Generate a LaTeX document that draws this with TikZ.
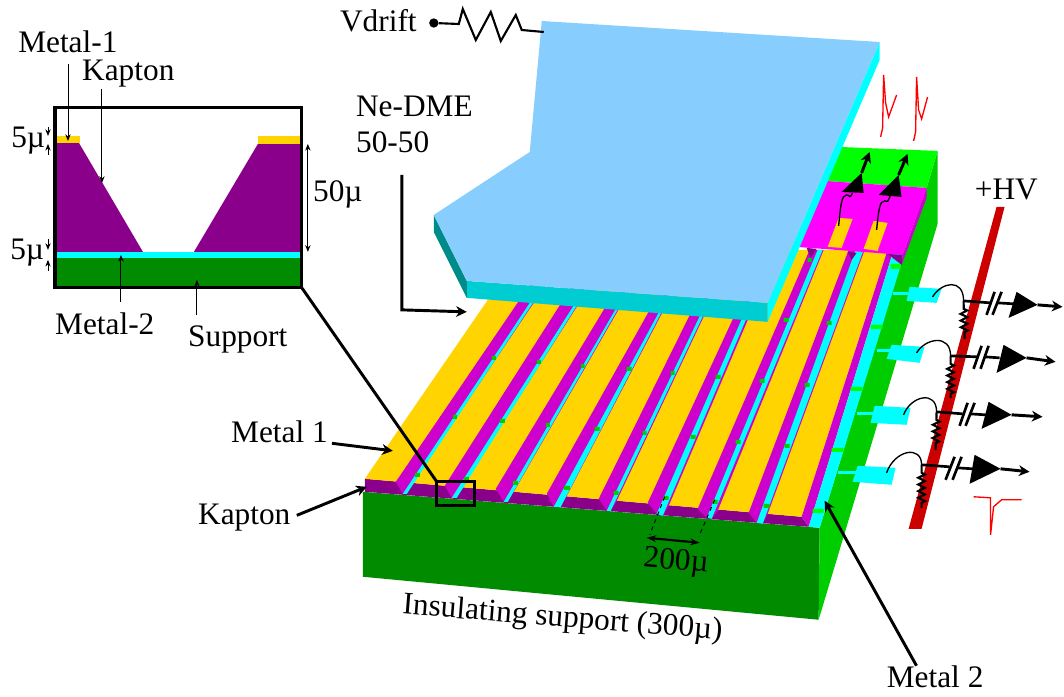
\documentclass[tikz,border=0pt]{standalone}
\usepackage{fontspec}
\setmainfont{Liberation Serif}
\usetikzlibrary{arrows.meta,positioning,decorations.pathmorphing}
\definecolor{gold}{RGB}{255,212,0}
\definecolor{kapton}{RGB}{139,0,139}
\definecolor{wall}{RGB}{205,0,205}
\definecolor{padpink}{RGB}{255,0,255}
\definecolor{metaltwo}{RGB}{0,255,255}
\definecolor{support}{RGB}{0,139,0}
\definecolor{sidegreen}{RGB}{0,205,0}
\definecolor{brightgreen}{RGB}{0,255,0}
\definecolor{platetop}{RGB}{135,206,255}
\definecolor{platefront}{RGB}{0,205,210}
\definecolor{plateside}{RGB}{0,139,139}
\definecolor{hvbar}{RGB}{205,0,0}
\definecolor{pulsered}{RGB}{255,0,0}

\begin{document}
\begin{tikzpicture}[
    x=0.75pt, y=-0.75pt,
    >={Stealth[length=8pt, width=8pt, inset=2.5pt]},
    % --- text ---
    tag/.style={
        font=\fontsize{23.5}{27}\selectfont,
        inner sep=0pt,
        anchor=base west,
        align=left
    },
    % --- lines ---
    pointer/.style={->, line width=2.2pt},
    fine pointer/.style={->, >={Stealth[length=5pt, width=4pt]}, line width=0.7pt},
    wire/.style={line width=1pt},
    lead/.style={line width=2pt},
    resistor/.style={line width=1.6pt, decorate,
        decoration={zigzag, amplitude=2.5pt, segment length=5pt, pre length=6pt, post length=3pt}},
    pulse/.style={pulsered, line width=1pt},
    % --- frames ---
    frame/.style={draw=black, line width=2.3pt, inner sep=0pt, outer sep=0pt},
    % --- fills ---
    metal1 fill/.style={fill=gold},
    kapton fill/.style={fill=kapton},
    wall fill/.style={fill=wall},
    metal2 fill/.style={fill=metaltwo},
    notch fill/.style={fill=brightgreen!80!black}
]

    % ====== Base block ======
    \fill[support] (363,492) -- (820,528) -- (819,620) -- (363,577) -- cycle;
    \fill[sidegreen] (820,528) -- (903,258) -- (927,188) -- (938,151) -- (938,224) -- (819,620) -- cycle;

    % Kapton front edge
    \fill[kapton fill] (365,479) -- (802,517) -- (809,527) -- (365,492) -- cycle;
    % Metal 1 sheet
    \fill[metal1 fill] (365,479) -- (488,300) -- (795,250) -- (888,250) -- (802,517) -- cycle;

    % Metal 2 band and last wall
    \fill[wall fill] (802,517) -- (809,527) -- (894,250) -- (888,250) -- cycle;
    \fill[metal2 fill] (809,527) -- (820,528) -- (906,250) -- (894,250) -- cycle;

    % ====== Grooves ======
    \fill[wall fill] (396,482) -- (403,494) -- (407,494) -- (413,483) -- (546,285) -- (530,285) -- cycle;
    \fill[metal2 fill] (403,494) -- (407,494) -- (545,285) -- (542,285) -- cycle;
    \fill[wall fill] (445,486) -- (452,498) -- (457,498) -- (463,486) -- (591,285) -- (573,285) -- cycle;
    \fill[metal2 fill] (452,498) -- (457,498) -- (590,285) -- (587,285) -- cycle;
    \fill[wall fill] (496,489) -- (504,502) -- (508,502) -- (514,492) -- (633,285) -- (619,285) -- cycle;
    \fill[metal2 fill] (504,502) -- (508,502) -- (632,285) -- (630,285) -- cycle;
    \fill[wall fill] (547,494) -- (554,507) -- (561,507) -- (567,496) -- (677,285) -- (664,285) -- cycle;
    \fill[metal2 fill] (554,507) -- (561,507) -- (676,285) -- (674,285) -- cycle;
    \fill[wall fill] (599,499) -- (607,511) -- (611,511) -- (617,501) -- (719,285) -- (705,285) -- cycle;
    \fill[metal2 fill] (607,511) -- (611,511) -- (718,285) -- (715,285) -- cycle;
    \fill[wall fill] (648,503) -- (657,514) -- (663,516) -- (669,506) -- (763,285) -- (749,285) -- cycle;
    \fill[metal2 fill] (657,514) -- (663,516) -- (761,285) -- (757,285) -- cycle;
    \fill[wall fill] (698,509) -- (707,518) -- (712,519) -- (718,511) -- (824,250) -- (810,250) -- cycle;
    \fill[metal2 fill] (707,518) -- (712,519) -- (823,250) -- (818,250) -- cycle;
    \fill[wall fill] (749,513) -- (757,523) -- (763,524) -- (768,514) -- (865,250) -- (849,250) -- cycle;
    \fill[metal2 fill] (757,523) -- (763,524) -- (864,250) -- (856,250) -- cycle;

    % Notches seen in the grooves
    \fill[notch fill]
        (415,473) rectangle ++(5,4) (464,477) rectangle ++(5,4)
        (513,481) rectangle ++(5,4) (564,486) rectangle ++(6,4)
        (614,491) rectangle ++(5,4) (664,496) rectangle ++(5,4)
        (713,500) rectangle ++(5,4) (764,504) rectangle ++(6,4)
        (453,415) rectangle ++(4,4) (500,419) rectangle ++(5,4)
        (546,423) rectangle ++(4,4) (595,427) rectangle ++(5,4)
        (643,431) rectangle ++(4,4) (691,435) rectangle ++(5,4)
        (736,440) rectangle ++(5,4) (785,444) rectangle ++(5,4)
        (492,356) rectangle ++(4,4) (537,360) rectangle ++(4,4)
        (581,364) rectangle ++(4,4) (627,367) rectangle ++(5,4)
        (671,371) rectangle ++(4,4) (716,375) rectangle ++(5,4)
        (760,379) rectangle ++(5,4) (805,383) rectangle ++(5,4)
        (784,318) rectangle ++(5,4) (827,321) rectangle ++(5,4)
        (808,258) rectangle ++(4,4);
    \fill[brightgreen]
        (813,509) rectangle ++(11,4) (832,448) rectangle ++(12,4)
        (851,387) rectangle ++(12,4) (871,325) rectangle ++(12,4)
        (891,264) rectangle ++(10,5);

    % ====== Readout end of the strips ======
    \fill[brightgreen] (840,147) -- (938,151) -- (927,188) -- (826,181) -- cycle;
    \fill[padpink] (826,181) -- (927,188) -- (903,255) -- (797,247) -- cycle;
    \fill[wall fill] (927,188) -- (927,198) -- (902,265) -- (903,255) -- cycle;
    \fill[kapton fill] (807,248) -- (817,249) -- (811,258) -- cycle;
    \fill[kapton fill] (848,252) -- (857,253) -- (852,260) -- cycle;
    \fill[kapton fill] (888,254) -- (903,255) -- (902,265) -- cycle;
    \fill[metal1 fill] (839,218) -- (853,219) -- (842,248) -- (828,247) -- cycle;
    \fill[metal1 fill] (874,221) -- (888,223) -- (878,251) -- (864,249) -- cycle;

    \draw[wire] (839,226) .. controls (841,205) and (842,195) .. (847,195) .. controls (851,195) and (849,200) .. (853,193);
    \fill (842,192) -- (862,173) -- (864,193) -- cycle;
    \draw[pointer] (862,173) -- (870,152);
    \draw[wire] (877,230) .. controls (879,210) and (880,201) .. (885,201) .. controls (889,201) and (887,204) .. (891,195);
    \fill (879,195) -- (899,175) -- (902,197) -- cycle;
    \draw[pointer] (899,175) -- (908,154);

    % ====== Drift plane ======
    \fill[metal2 fill] (880,42) -- (880,60) -- (768,322) -- (768,303) -- cycle;
    \fill[platefront] (467,281) -- (768,303) -- (768,322) -- (467,298) -- cycle;
    \fill[plateside] (434,215) -- (467,281) -- (467,298) -- (434,232) -- cycle;
    \fill[platetop] (542,21) -- (880,42) -- (768,303) -- (467,281) -- (434,215) -- (530,152) -- cycle;

    \node[tag] (vdrift) at (340,32) {Vdrift};
    \node[circle, fill=black, inner sep=0pt, minimum size=7pt] (vdrift dot) at (434,23) {};
    \coordinate (plate contact) at (544,32);
    \draw[line width=1.6pt] (vdrift dot) -- (459,24) -- (463,9) -- (476,40) -- (491,12)
        -- (501,41) -- (516,15) -- (522,30) -- (plate contact);

    \node[tag] (gas) at (356,153) {Ne-DME\\50-50};
    \coordinate (gas corner) at (402,310);
    \coordinate (gas end) at (467,312);
    \draw[pointer, shorten <=16pt] (gas.south -| gas corner) -- (gas corner) -- (gas end);

    % ====== High voltage and channels ======
    \fill[hvbar] (997,207) -- (1005,207) -- (922,529) -- (909,529) -- cycle;
    \node[tag] (hv) at (975,200) {+HV};

    % Channel 1
    \fill[metal2 fill] (910,287) -- (942,289) -- (937,303) -- (907,301) -- cycle;
    \fill[metal2 fill] (893,292) rectangle (908,295);
    \draw[wire] (933,297) .. controls (942,282) and (964,278) .. (964,301);
    \draw[resistor] (964,301) -- (965,339);
    \draw[lead] (964,301) -- (991,303) (998,303) -- (1015,304);
    \draw[lead] (987,315) -- (995,292) (993,315) -- (1002,292);
    \fill (1017,292) -- (1038,305) -- (1009,318) -- cycle;
    \draw[pointer] (1038,305) -- (1063,307);

    % Channel 2
    \fill[metal2 fill] (892,345) -- (925,347) -- (920,363) -- (887,359) -- cycle;
    \fill[metal2 fill] (877,349) rectangle (890,352);
    \draw[wire] (917,353) .. controls (926,338) and (951,334) .. (951,356);
    \draw[resistor] (951,356) -- (951,398);
    \draw[lead] (951,356) -- (978,357) (985,357) -- (1000,358);
    \draw[lead] (974,369) -- (982,346) (981,369) -- (989,346);
    \fill (1004,345) -- (1027,358) -- (997,373) -- cycle;
    \draw[pointer] (1027,358) -- (1056,362);

    % Channel 3
    \fill[metal2 fill] (875,406) -- (911,408) -- (907,425) -- (871,423) -- cycle;
    \fill[metal2 fill] (857,412) rectangle (873,415);
    \draw[wire] (904,415) .. controls (911,396) and (937,390) .. (937,412);
    \draw[resistor] (937,412) -- (936,450);
    \draw[lead] (937,412) -- (963,414) (970,414) -- (986,415);
    \draw[lead] (960,426) -- (968,403) (966,426) -- (975,403);
    \fill (989,402) -- (1012,415) -- (982,429) -- cycle;
    \draw[pointer] (1012,415) -- (1043,417);

    % Channel 4
    \fill[metal2 fill] (858,466) -- (896,468) -- (892,485) -- (853,482) -- cycle;
    \fill[metal2 fill] (838,471) rectangle (856,474);
    \draw[wire] (887,473) .. controls (895,450) and (922,445) .. (922,465);
    \draw[resistor] (922,465) -- (922,508);
    \draw[lead] (922,465) -- (950,467) (957,468) -- (973,469);
    \draw[lead] (946,480) -- (955,457) (953,480) -- (962,457);
    \fill (975,455) -- (1001,469) -- (970,484) -- cycle;
    \draw[pointer] (1001,469) -- (1030,472);

    % ====== Pulses ======
    \draw[pulse] (881,137) -- (883,128) -- (884,75) -- (886,103) -- (889,117) -- (897,95);
    \draw[pulse] (914,141) -- (916,132) -- (917,77) -- (919,110) -- (922,119) -- (928,97);
    \draw[pulse] (974,497) -- (991,498) -- (991,535) -- (994,507) -- (1002,500) -- (1022,500);

    % ====== Cross-section ======
    \fill[support] (57,258) rectangle (300,287);
    \fill[metal2 fill] (57,252) rectangle (300,258);
    \fill[kapton fill] (57,143) -- (79,143) -- (143,252) -- (57,252) -- cycle;
    \fill[kapton fill] (258,144) -- (300,144) -- (300,252) -- (194,252) -- cycle;
    \fill[metal1 fill] (57,136) rectangle (80,143);
    \fill[metal1 fill] (258,136) rectangle (300,144);
    \node[frame, minimum width=185.25pt, minimum height=135pt] (inset) at (178.5,198) {};

    \node[tag] (metal-1 tag) at (18,53) {Metal-1};
    \node[tag] (inset kapton) at (82,81) {Kapton};
    \node[tag] (five top) at (11,148) {5µ};
    \node[tag] (five bottom) at (10,260) {5µ};
    \node[tag] (fifty) at (313,202) {50µ};
    \node[tag] (metal-2 tag) at (55,335) {Metal-2};
    \node[tag] (support tag) at (188,347) {Support};

    \coordinate (metal-1 end) at (68,141);
    \coordinate (kapton end) at (102,183);
    \coordinate (metal-2 end) at (121,255);
    \coordinate (support end) at (197,280);
    \draw[fine pointer, shorten <=8pt] (metal-1 tag.south -| metal-1 end) -- (metal-1 end);
    \draw[fine pointer, shorten <=1pt] (inset kapton.south -| kapton end) -- (kapton end);
    \draw[fine pointer, shorten <=8pt] (metal-2 tag.north -| metal-2 end) -- (metal-2 end);
    \draw[fine pointer, shorten <=8pt] (support tag.north -| support end) -- (support end);

    % thickness marks
    \coordinate (top hi) at (48,127);
    \coordinate (top lo) at (48,155);
    \coordinate (bottom hi) at (48,239);
    \coordinate (bottom lo) at (48,271);
    \draw[fine pointer] (top hi) -- (48,136);
    \draw[fine pointer] (top lo) -- (48,144);
    \draw[fine pointer] (bottom hi) -- (48,250);
    \draw[fine pointer] (bottom lo) -- (48,260);
    \coordinate (fifty hi) at (308,144);
    \coordinate (fifty lo) at (308,252);
    \draw[fine pointer, <->] (fifty hi) -- (fifty lo);

    % ====== Labels on the detector ======
    \node[tag] (metal 1 tag) at (231,443) {Metal 1};
    \node[tag] (kapton tag) at (198,525) {Kapton};
    \node[tag] (metal 2 tag) at (887,688) {Metal 2};
    \node[tag, rotate=-5] (pitch) at (643,567) {200µ};
    \node[tag, rotate=-4.6] (insulator) at (402,614) {Insulating support (300µ)};

    \coordinate (metal 1 end) at (393,451);
    \coordinate (kapton front) at (367,487);
    \coordinate (metal 2 end) at (825,501);
    \draw[pointer, shorten <=3pt] (metal 1 tag.base east) -- (metal 1 end);
    \draw[pointer, shorten <=5pt] (kapton tag.east) -- (kapton front);
    \draw[pointer] ([xshift=-14pt]metal 2 tag.north) -- (metal 2 end);

    % pitch marks
    \coordinate (pitch a) at (650,535);
    \coordinate (pitch b) at (699,537);
    \draw[dashed, line width=0.7pt] (665,497) -- (pitch a);
    \draw[dashed, line width=0.7pt] (715,500) -- (pitch b);
    \draw[<->, line width=1.6pt, >={Stealth[length=7pt, width=5pt]}] (647,538) -- (700,543);

    % ====== Zoom link ======
    \node[frame, minimum width=28.5pt, minimum height=18pt] (probe) at (456,494) {};
    \draw[line width=2.2pt] (inset.south east) -- (probe.north west);

    \useasboundingbox (0,0) rectangle (1064,697);
\end{tikzpicture}
\end{document}
